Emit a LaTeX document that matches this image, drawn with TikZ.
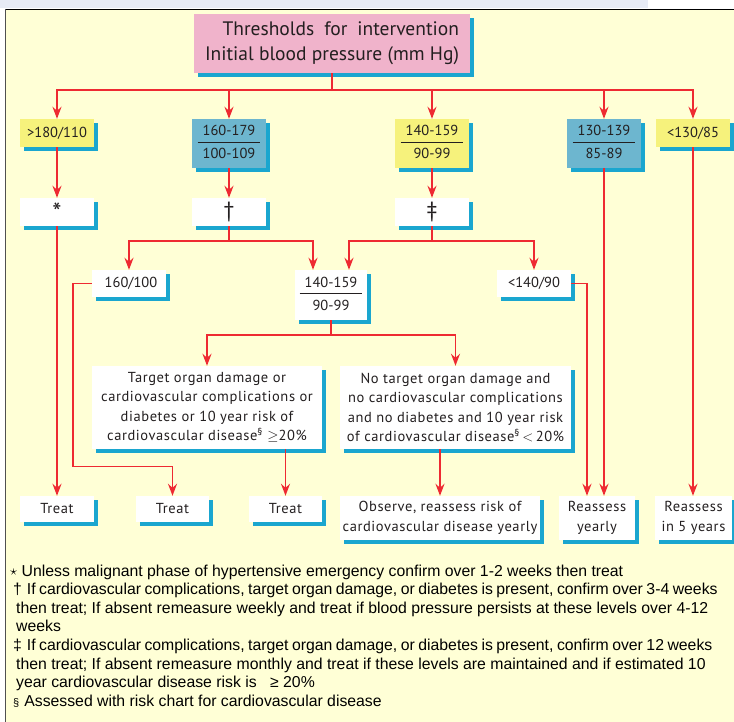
\documentclass[tikz,border=0pt]{standalone}
\usepackage{fontspec}
\setmainfont[LetterSpace=4]{PT Sans}
\newfontfamily\plainfamily{PT Sans}
\newfontfamily\notefamily{Liberation Sans}
\usetikzlibrary{arrows.meta,shadows}

\definecolor{strip}{RGB}{231,235,245}
\definecolor{panel}{RGB}{255,255,214}
\definecolor{frame}{RGB}{80,80,80}
\definecolor{boxpink}{RGB}{240,179,203}
\definecolor{boxyellow}{RGB}{246,242,124}
\definecolor{boxblue}{RGB}{109,182,207}
\definecolor{shade}{RGB}{26,166,207}
\definecolor{wirered}{RGB}{238,42,50}
\definecolor{ink}{RGB}{35,31,32}

\def\boxfont{\fontsize{14.5}{19.5}\selectfont}
\def\numfont{\plainfamily\fontsize{14.5}{19.5}\selectfont}
\def\titlefont{\plainfamily\fontsize{19.5}{25}\selectfont}
\def\notefont{\notefamily\fontsize{15.8}{18.6}\selectfont}
\def\tight{\spaceskip=0.22em plus 0.1em}
\setlength{\arrayrulewidth}{1pt}
\newcommand\bpfrac[2]{\begin{tabular}{@{\hspace{5pt}}c@{\hspace{5pt}}}#1\\\hline\rule{0pt}{16pt}#2\end{tabular}}

\begin{document}
\begin{tikzpicture}[x=1pt,y=-1pt,>={Stealth[length=12pt,width=9pt,inset=4pt]}]
    \tikzstyle{bp cell}=[fill=white,text=ink,font=\boxfont,align=center,inner xsep=0pt,inner ysep=2pt,
        minimum width=74pt,minimum height=28pt,
        drop shadow={shadow xshift=4pt,shadow yshift=-4pt,opacity=1,fill=shade}]
    \tikzstyle{num cell}=[bp cell,font=\numfont]
    \tikzstyle{yellow cell}=[num cell,fill=boxyellow]
    \tikzstyle{blue cell}=[num cell,fill=boxblue,minimum height=49pt]
    \tikzstyle{title cell}=[bp cell,fill=boxpink,font=\titlefont,align=right,minimum width=276pt,minimum height=59pt]
    \tikzstyle{wire}=[draw=wirered,line width=1.6pt]
    \tikzstyle{note}=[font=\notefont,text=black,anchor=base west,inner sep=0pt]

    \useasboundingbox (0,0) rectangle (734,722);
    \clip (0,0) rectangle (734,722);

    % Draw the panel
    \fill[strip] (0,0) rectangle (648,8.5);
    \fill[panel] (5,9) rectangle (734,722);
    \draw[black,line width=1.3pt] (5,9.5) -- (734,9.5);
    \draw[frame,line width=1.5pt] (5.5,9) -- (5.5,722);

    % Draw the title
    \node[title cell] (title) at (332,43.5) {Thresholds\hspace{10pt}for\hspace{10pt}intervention\\Initial blood pressure (mm Hg)};

    % Draw the initial thresholds
    \node[yellow cell] (L-1) at (57,133) {>180/110};
    \node[blue cell] (L-2) at (229,143.5) {\bpfrac{160-179}{100-109}};
    \node[yellow cell,minimum height=49pt] (L-3) at (432,143.5) {\bpfrac{140-159}{90-99}};
    \node[blue cell] (L-4) at (604,143.5) {\bpfrac{130-139}{85-89}};
    \node[yellow cell] (L-5) at (693,133) {<130/85};

    % Draw the footnote marks
    \node[num cell] (S-1) at (57,212) {\raisebox{-6pt}{\fontsize{26}{26}\selectfont *}};
    \node[num cell] (S-2) at (229,212) {\fontsize{22}{22}\selectfont †};
    \node[num cell] (S-3) at (432,212) {\fontsize{22}{22}\selectfont ‡};

    % Draw the levels after confirmation
    \node[num cell,minimum height=27pt] (M-1) at (129,283.5) {\hspace{4pt}160/100};
    \node[num cell,minimum width=72pt,minimum height=50pt] (M-2) at (331,295) {\bpfrac{140-159}{90-99}};
    \node[num cell,minimum height=27pt] (M-3) at (534,283.5) {<140/90};

    % Draw the risk conditions
    \node[bp cell,minimum width=230pt,minimum height=83pt] (D-1) at (207,407.5)
        {Target organ damage or\\cardiovascular complications or\\diabetes or 10 year risk of\\cardiovascular disease\textsuperscript{\S} $\geq$20\%};
    \node[bp cell,minimum width=231pt,minimum height=83pt] (D-2) at (455.5,407.5)
        {No target organ damage and\\no cardiovascular complications\\and no diabetes and 10 year risk\\of cardiovascular disease\textsuperscript{\S}\,$<$\,20\%};

    % Draw the outcomes
    \node[bp cell,minimum height=26pt] (T-1) at (57,509) {Treat};
    \node[bp cell,minimum width=73pt,minimum height=26pt] (T-2) at (172.5,509) {Treat};
    \node[bp cell,minimum width=73pt,minimum height=26pt] (T-3) at (285.5,509) {Treat};
    \node[bp cell,minimum width=200pt,minimum height=44pt] (obs) at (440,518) {Observe, reassess risk of\\cardiovascular disease yearly};
    \node[bp cell,minimum width=76pt,minimum height=44pt] (R-1) at (597,518) {Reassess\\yearly};
    \node[bp cell,minimum width=77pt,minimum height=44pt] (R-2) at (693.5,518) {Reassess\\in 5 years};

    % Connect the title with every initial threshold
    \foreach \n in {1,...,5}
        \draw[wire,->] (title.south) -- ++(0,17) -| (L-\n.north);

    % Connect the thresholds with the footnote marks
    \foreach \n in {1,2,3}
        \draw[wire,->] (L-\n) -- (S-\n);

    \draw[wire,->] (S-2.south) -- ++(0,15) -| (M-1.north);
    \draw[wire,->] (S-2.south) -- ++(0,15) -| ([xshift=-18pt]M-2.north);
    \draw[wire,->] (S-3.south) -- ++(0,15) -| ([xshift=18pt]M-2.north);
    \draw[wire,->] (S-3.south) -- ++(0,15) -| (M-3.north);
    \draw[wire,->] (M-2.south) -- ++(0,15) -| (D-1.north);
    \draw[wire,->] (M-2.south) -- ++(0,15) -| (D-2.north);

    % Lead every branch to its outcome
    \draw[wire,->] (S-1) -- (T-1);
    \draw[wire,->] (M-1.west) -- ++(-19,0) -- ++(0,183) -| (T-2.north);
    \draw[wire,->] (T-3.north |- D-1.south) -- (T-3.north);
    \draw[wire,->] (obs.north |- D-2.south) -- (obs.north);
    \draw[wire,->] (M-3.east) -| ([xshift=-10pt]R-1.north);
    \draw[wire,->] (L-4.south) -- (L-4.south |- R-1.north);
    \draw[wire,->] (L-5.south) -- (L-5.south |- R-2.north);

    % Write the footnotes
    \foreach \n/\x/\txt in {
        1/10/{\raisebox{1pt}{$\star$} Unless malignant phase of hypertensive emergency confirm over 1-2 weeks then treat},
        2/13/{\tight †\hspace{5pt}If cardiovascular complications, target organ damage, or diabetes is present, confirm over 3-4 weeks},
        3/16/{then treat; If absent remeasure weekly and treat if blood pressure persists at these levels over 4-12},
        4/16/{weeks},
        5/13/{\tight ‡\hspace{5pt}If cardiovascular complications, target organ damage, or diabetes is present, confirm over 12 weeks},
        6/16/{then treat; If absent remeasure monthly and treat if these levels are maintained and if estimated 10},
        7/16/{year cardiovascular disease risk is \hspace{9pt}≥ 20\%},
        8/13/{{\fontsize{11}{11}\selectfont §}\hspace{5pt}Assessed with risk chart for cardiovascular disease}}
        \node[note] (note-\n) at (\x,{576+18.6*(\n-1)}) {\txt};
\end{tikzpicture}
\end{document}
